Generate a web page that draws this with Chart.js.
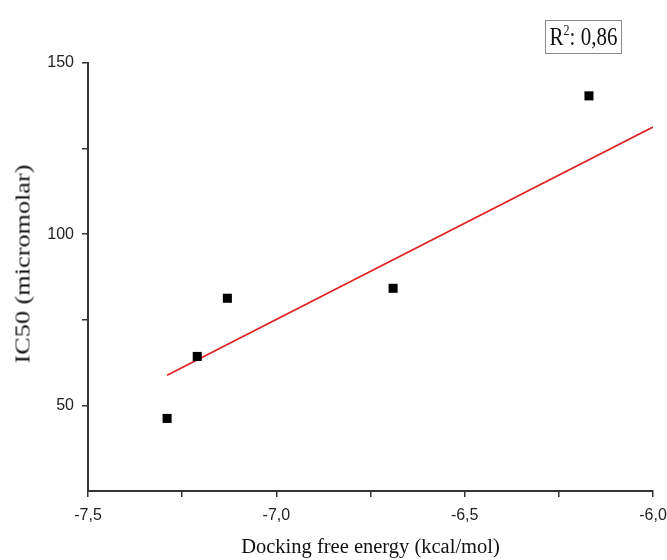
<!DOCTYPE html>
<html>
<head>
<meta charset="utf-8">
<script src="https://cdn.jsdelivr.net/npm/chart.js@4"></script>
<style>
  html, body { margin: 0; padding: 0; background: #fff; }
  #wrap { position: relative; width: 667px; height: 560px; overflow: hidden; }
  #r2 {
    position: absolute; left: 545px; top: 20px; width: 77px; height: 34px;
    border: 1px solid #8a8a8a; box-sizing: border-box;
    font-family: 'Liberation Serif', 'Times New Roman', serif; font-size: 21px;
    line-height: 32px; text-align: center; color: #111; background: #fff;
  }
  #r2 span { display: inline-block; transform: scale(1, 1.2); }
  #r2 sup { font-size: 12px; vertical-align: 9px; line-height: 0; }
  #ytitle {
    position: absolute; left: 23px; top: 264px; white-space: nowrap;
    font-family: 'Liberation Serif', 'Times New Roman', serif; font-size: 21px;
    color: #111;
    transform: translate(-50%, -50%) rotate(-90deg) scale(1.25, 1);
  }
</style>
</head>
<body>
<div id="wrap">
  <canvas id="chart" width="667" height="560"></canvas>
  <div id="ytitle">IC50 (micromolar)</div>
  <div id="r2"><span>R<sup>2</sup>: 0,86</span></div>
</div>
<script>
/* IC50 vs docking free energy — scatter with linear fit */

// measured points
const energy = [-7.29, -7.21, -7.13, -6.69, -6.17];
const ic50 = [46.2, 64.3, 81.3, 84.2, 140.4];

// fit line endpoints as drawn
const fitEnergy = [-7.29, -6.0];
const fitIc50 = [58.8, 131.3];

// axis ticks (major ones carry labels)
const xTicks = [-7.5, -7.25, -7.0, -6.75, -6.5, -6.25, -6.0];
const xTickLabels = ['-7,5', '', '-7,0', '', '-6,5', '', '-6,0'];
const yTicks = [50, 75, 100, 125, 150];
const yTickLabels = ['50', '', '100', '', '150'];

const tickFont = { family: "'Liberation Sans', Arial, sans-serif", size: 16 };
const titleFont = { family: "'Liberation Serif', 'Times New Roman', serif", size: 20.5 };

const ctx = document.getElementById('chart').getContext('2d');

new Chart(ctx, {
    type: 'scatter',
    data: {
        datasets: [
            {
                label: 'IC50',
                data: energy.map((x, i) => ({ x: x, y: ic50[i] })),
                pointStyle: 'rect',
                pointRadius: 6.4,
                backgroundColor: '#000',
                borderColor: '#000',
                borderWidth: 0,
                order: 1
            },
            {
                label: 'fit',
                type: 'line',
                data: fitEnergy.map((x, i) => ({ x: x, y: fitIc50[i] })),
                borderColor: '#e02020',
                borderWidth: 1.6,
                pointRadius: 0,
                fill: false,
                order: 2
            }
        ]
    },
    options: {
        responsive: false,
        animation: false,
        layout: { padding: { top: 63, right: 0, bottom: 0, left: 0 } },
        plugins: { legend: { display: false }, tooltip: { enabled: false } },
        scales: {
            x: {
                type: 'linear',
                min: -7.5,
                max: -6.0,
                afterBuildTicks: axis => { axis.ticks = xTicks.map(v => ({ value: v })); },
                afterFit: axis => {
                    axis.height = 69;
                    // the last label is allowed to run off the edge, as in the source figure
                    axis.paddingRight = 14;
                },
                border: { display: true, color: '#333', width: 2 },
                grid: { drawOnChartArea: false, color: '#333', lineWidth: 1.5, tickLength: 6 },
                ticks: {
                    color: '#222',
                    font: tickFont,
                    padding: 9,
                    maxRotation: 0,
                    autoSkip: false,
                    callback: (val, i) => xTickLabels[i]
                },
                title: {
                    display: true,
                    text: 'Docking free energy (kcal/mol)',
                    color: '#111',
                    font: titleFont,
                    padding: { top: 0, bottom: 0 }
                }
            },
            y: {
                type: 'linear',
                min: 25,
                max: 150,
                afterBuildTicks: axis => { axis.ticks = yTicks.map(v => ({ value: v })); },
                afterFit: axis => { axis.width = 88; },
                border: { display: true, color: '#333', width: 2 },
                grid: { drawOnChartArea: false, color: '#333', lineWidth: 1.5, tickLength: 6 },
                ticks: {
                    color: '#222',
                    font: tickFont,
                    padding: 8,
                    autoSkip: false,
                    callback: (val, i) => yTickLabels[i]
                }
            }
        }
    }
});
</script>
</body>
</html>
